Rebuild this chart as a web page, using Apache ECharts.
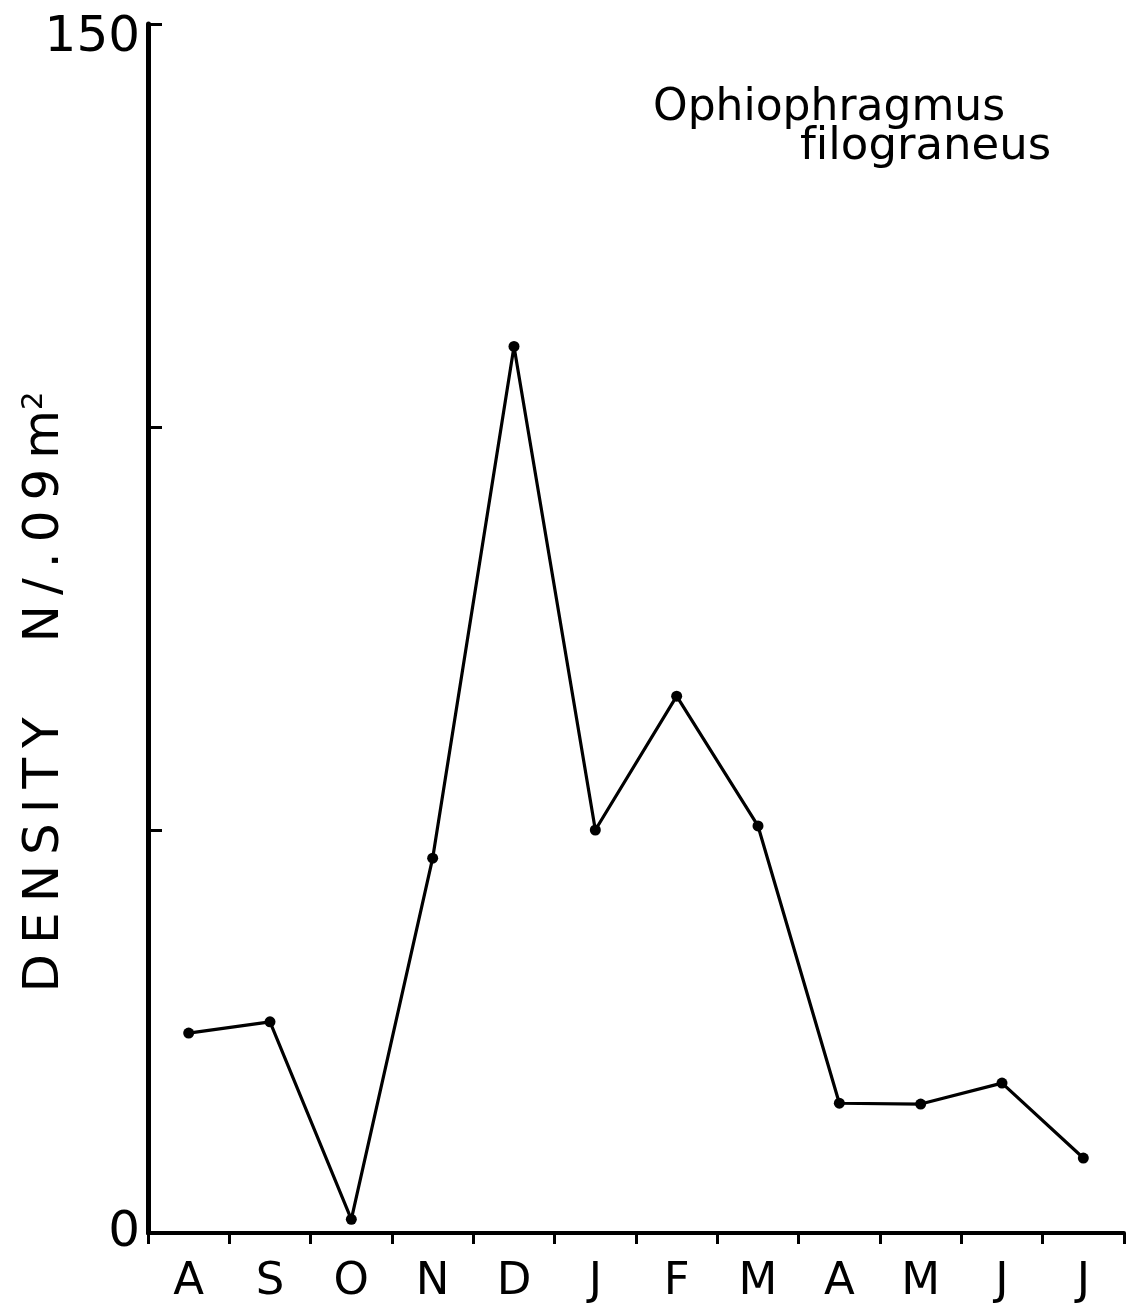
<!DOCTYPE html>
<html>
<head>
<meta charset="utf-8">
<title>Ophiophragmus filograneus density</title>
<script src="https://cdn.jsdelivr.net/npm/echarts@6/dist/echarts.min.js"></script>
<style>
  html, body { margin: 0; padding: 0; background: #fff; }
  #chart { width: 1127px; height: 1303px; }
</style>
</head>
<body>
<div id="chart"></div>
<script>
// Monthly sampling, August through July
const months = ['A', 'S', 'O', 'N', 'D', 'J', 'F', 'M', 'A', 'M', 'J', 'J'];
// Density, individuals per 0.09 m²
const density = [24.8, 26.2, 1.7, 46.5, 110.0, 50.0, 66.6, 50.5, 16.1, 16.0, 18.6, 9.3];
// Labelled y values
const yLabelled = [0, 150];

const speciesLine1 = 'Ophiophragmus';
// zero-width non-joiner keeps "f" and "i" as separate letters (no ligature)
const speciesLine2 = 'f\u200Cilograneus';
const yTitleWord = 'DENSITY';
const yTitleUnit = 'N/.09m';

// widen the lettering of the axis title a little
const spaced = s => Array.from(s).join('\u2009');

const FONT = '"DejaVu Sans", sans-serif';
const INK = '#000';

const chart = echarts.init(document.getElementById('chart'), null, { renderer: 'canvas' });

chart.setOption({
  backgroundColor: '#fff',
  animation: false,
  grid: {
    left: 148, right: 3, top: 24, bottom: 70,
    containLabel: false,
    outerBoundsMode: 'none'
  },
  xAxis: {
    type: 'category',
    data: months,
    boundaryGap: true,
    axisLine: { show: true, lineStyle: { color: INK, width: 4 } },
    axisTick: { show: true, inside: false, length: 11, lineStyle: { color: INK, width: 3 } },
    axisLabel: { color: INK, fontFamily: FONT, fontSize: 45, margin: 27, interval: 0 },
    splitLine: { show: false }
  },
  yAxis: {
    type: 'value',
    min: 0, max: 150, interval: 50,
    axisLine: { show: true, onZero: false, lineStyle: { color: INK, width: 5 } },
    axisTick: { show: true, inside: true, length: 14, lineStyle: { color: INK, width: 3 } },
    axisLabel: {
      color: INK, margin: 8,
      formatter: v => {
        if (!yLabelled.includes(v)) return '';
        return v === 150 ? '{top|' + v + '}' : '{base|' + v + '}';
      },
      rich: {
        top: { fontFamily: FONT, fontSize: 50, color: INK, padding: [28, 0, 0, 0] },
        base: { fontFamily: FONT, fontSize: 50, color: INK }
      }
    },
    splitLine: { show: false }
  },
  graphic: [
    {
      type: 'text',
      x: 45, y: 692,
      rotation: Math.PI / 2,
      style: {
        text: spaced(yTitleWord) + '\u2003\u2002' + spaced(yTitleUnit) + '{sup|2}',
        rich: {
          sup: { font: '29px ' + FONT, fill: INK, padding: [0, 0, 21, 0] }
        },
        fill: INK,
        font: '50px ' + FONT,
        align: 'center',
        verticalAlign: 'middle'
      }
    },
    {
      type: 'text',
      x: 653, y: 109,
      style: {
        text: speciesLine1, fill: INK, font: '44px ' + FONT,
        align: 'left', verticalAlign: 'middle'
      }
    },
    {
      type: 'text',
      x: 800, y: 147,
      style: {
        text: speciesLine2, fill: INK, font: '45px ' + FONT,
        align: 'left', verticalAlign: 'middle'
      }
    }
  ],
  series: [
    {
      type: 'line',
      data: density,
      symbol: 'circle',
      symbolSize: 11,
      showSymbol: true,
      lineStyle: { color: INK, width: 3.2 },
      itemStyle: { color: INK, borderWidth: 0 }
    }
  ]
});
</script>
</body>
</html>
